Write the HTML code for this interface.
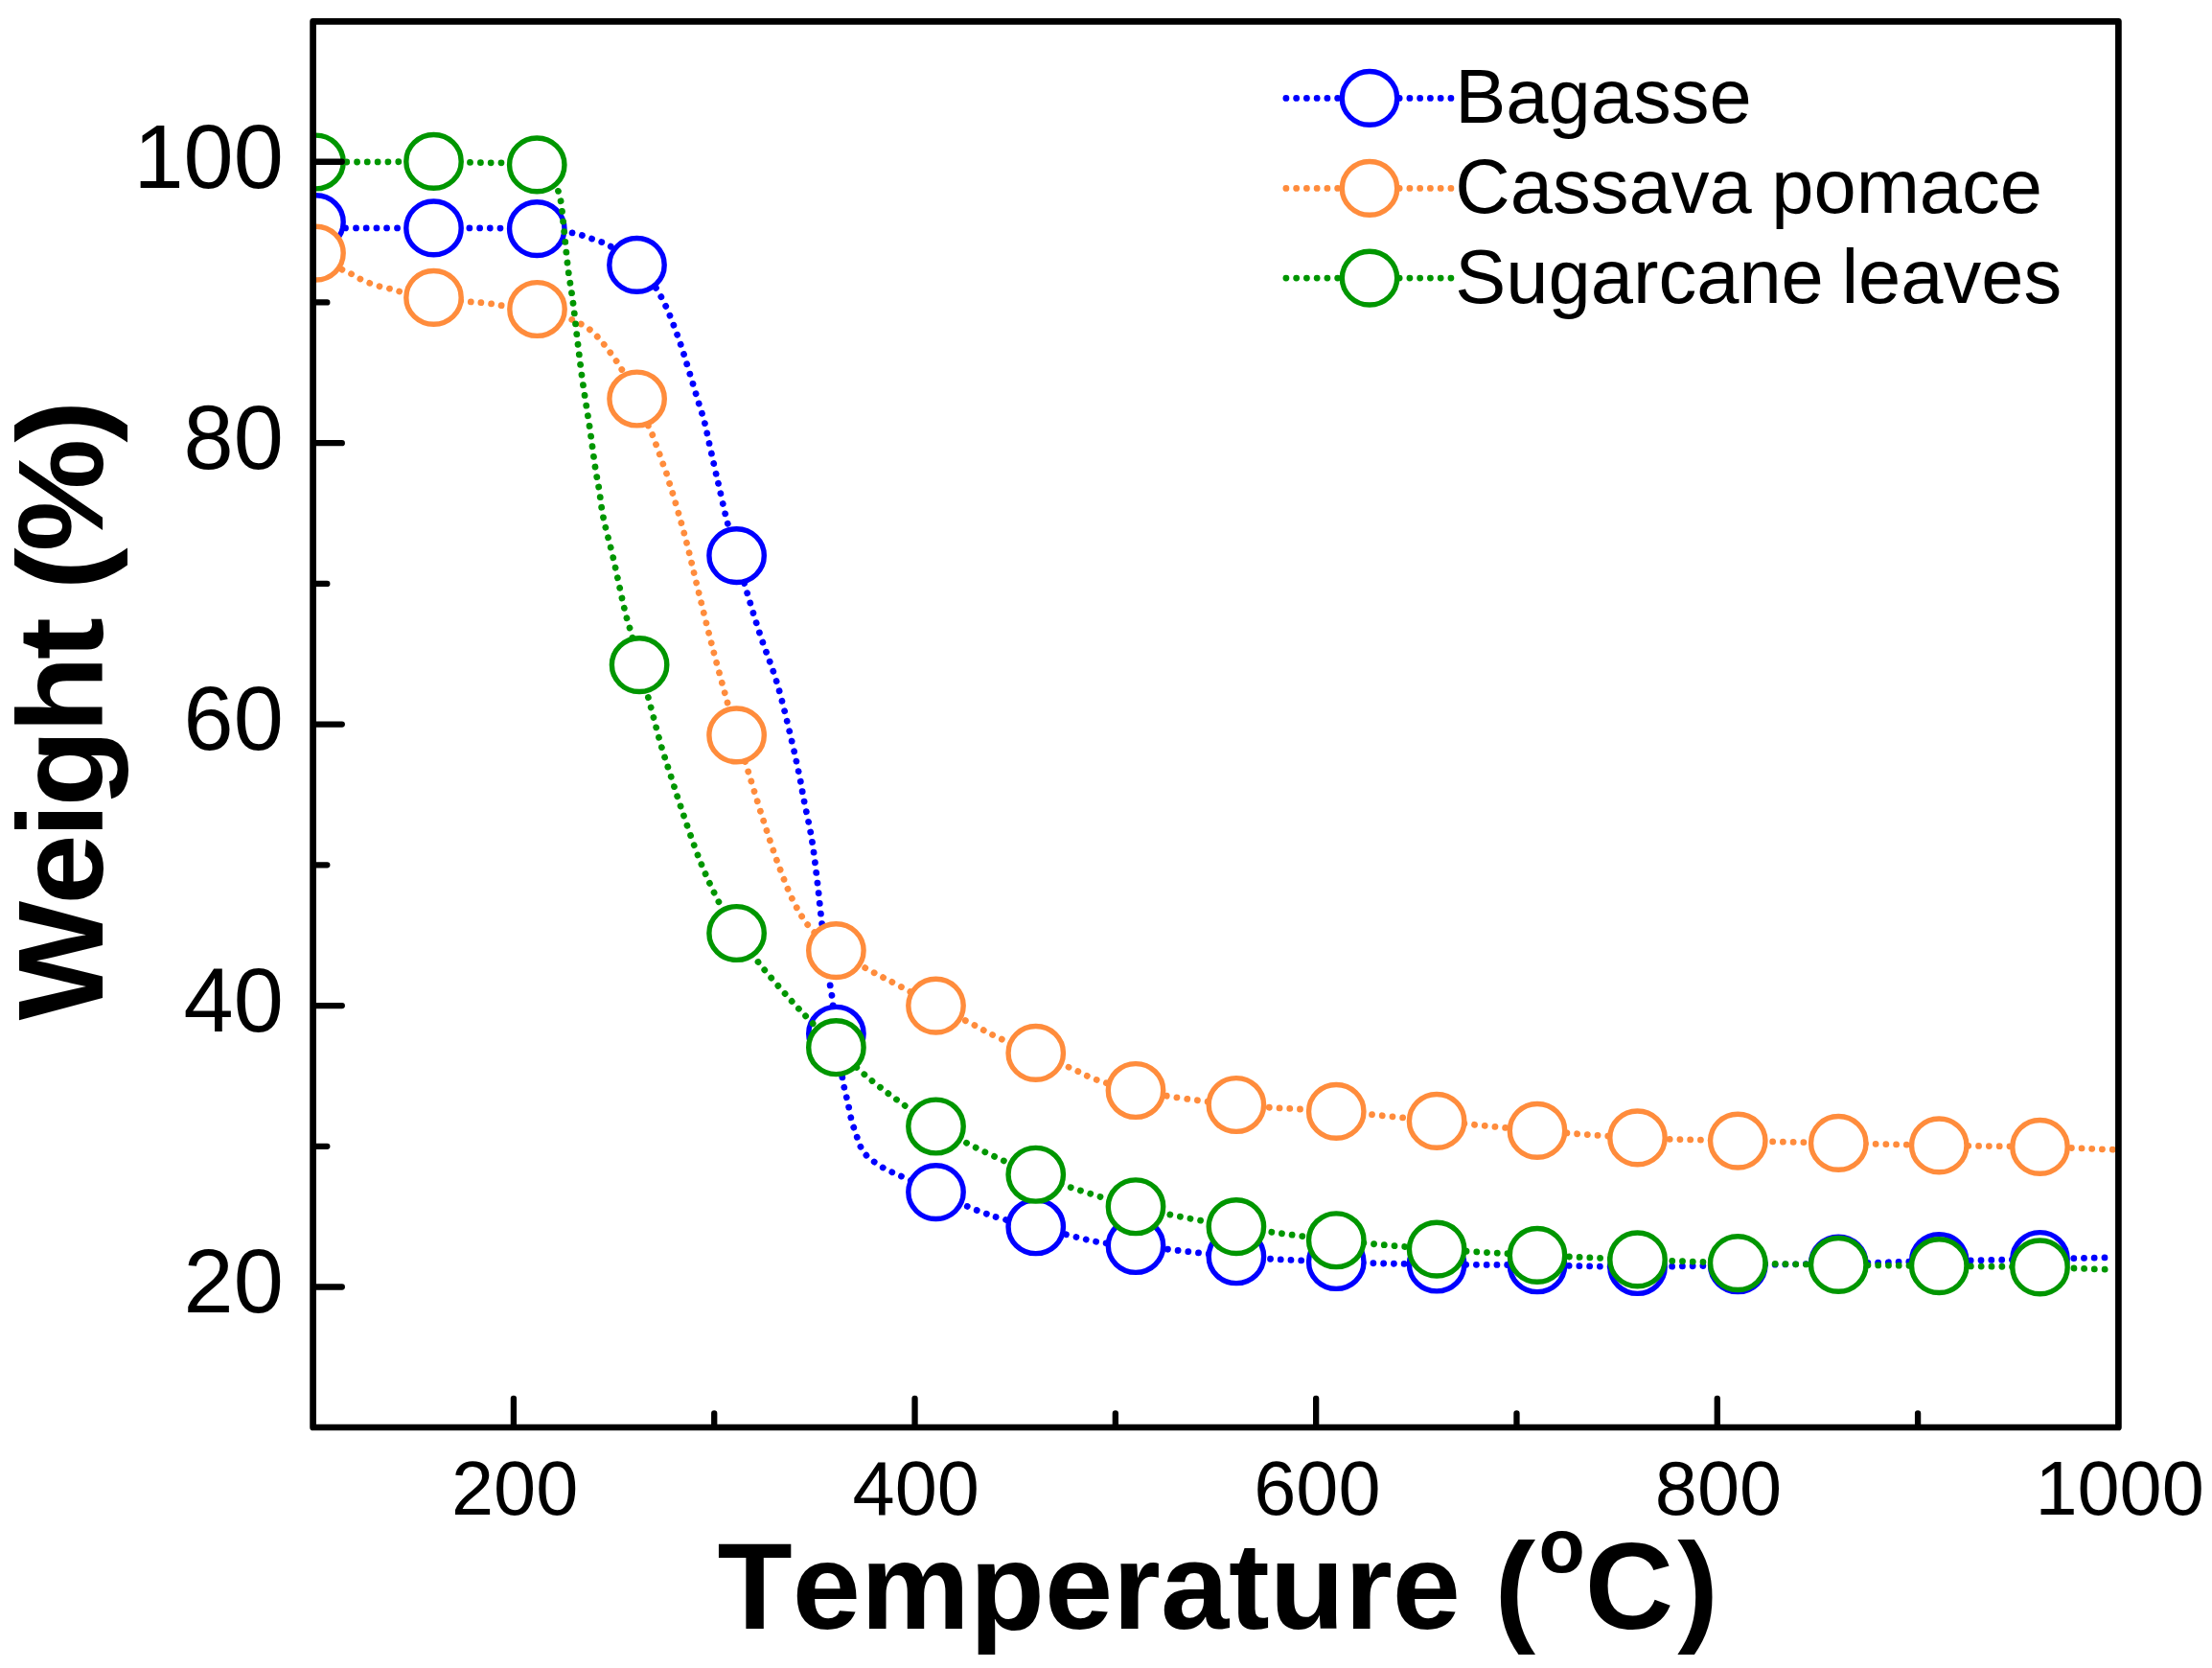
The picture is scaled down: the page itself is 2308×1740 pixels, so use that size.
<!DOCTYPE html>
<html lang="en"><head><meta charset="utf-8"><title>TGA: Weight (%) vs Temperature</title>
<style>html,body{margin:0;padding:0;background:#fff}body{width:2308px;height:1740px;overflow:hidden}svg{display:block}</style></head>
<body>
<svg width="2308" height="1740" viewBox="0 0 2308 1740" font-family="'Liberation Sans', sans-serif" fill="#000" style="font-kerning:none">
<rect width="2308" height="1740" fill="#fff"/>
<defs><clipPath id="plotclip"><rect x="326.60" y="22.30" width="1883.80" height="1466.70"/></clipPath></defs>
<g clip-path="url(#plotclip)">
<path d="M329.50 231.70C333.00 233.13 336.32 235.02 340.00 236.00C343.80 237.01 347.15 237.25 352.00 237.60C359.37 238.13 368.49 237.84 380.00 237.90C398.52 238.00 429.73 237.88 452.50 237.90C472.78 237.92 491.48 237.87 510.00 238.00C527.31 238.12 547.35 238.00 560.25 238.60C568.35 238.98 573.63 239.43 580.00 240.20C586.02 240.92 592.43 241.93 597.50 243.00C601.47 243.83 604.50 244.68 608.00 245.75C611.58 246.84 615.17 248.25 618.75 249.50C622.33 250.75 626.10 251.79 629.50 253.25C632.75 254.64 635.44 256.09 638.75 258.00C642.82 260.35 647.72 263.44 652.00 266.50C656.31 269.58 660.54 272.78 664.50 276.40C668.55 280.10 672.54 284.28 676.00 288.50C679.35 292.58 682.07 296.49 685.00 301.25C688.42 306.80 692.00 313.61 695.00 320.00C697.99 326.36 700.48 333.00 703.00 339.50C705.48 345.91 707.75 352.15 710.00 358.75C712.34 365.63 714.61 373.13 716.75 380.00C718.76 386.44 720.55 392.34 722.50 398.75C724.55 405.49 726.66 412.61 728.75 419.50C730.83 426.36 733.19 433.18 735.00 440.00C736.77 446.67 737.86 452.63 739.50 460.00C741.53 469.10 744.20 481.47 746.25 490.50C747.89 497.73 749.12 502.74 750.80 510.00C752.93 519.19 755.23 530.33 758.00 541.25C761.08 553.41 765.21 567.43 768.60 579.60C771.68 590.66 774.04 599.50 777.50 611.25C781.88 626.15 787.50 645.01 793.00 661.75C798.50 678.51 805.19 694.15 810.50 711.75C816.28 730.90 821.69 754.32 826.00 772.50C829.48 787.19 832.51 801.36 834.75 812.50C836.35 820.45 836.96 825.01 838.50 833.00C840.67 844.28 844.46 860.09 846.75 873.75C849.04 887.42 850.58 901.24 852.25 915.00C853.92 928.74 855.15 942.30 856.75 956.25C858.40 970.62 860.24 987.02 862.00 1000.00C863.41 1010.45 865.12 1021.12 866.25 1028.25C866.94 1032.60 867.36 1034.12 868.00 1038.75C869.24 1047.70 870.59 1064.18 872.40 1078.25C874.48 1094.47 877.95 1119.66 880.00 1130.50C880.94 1135.46 881.67 1137.67 882.50 1141.25C883.33 1144.83 884.08 1147.87 885.00 1152.00C886.25 1157.59 887.67 1166.28 889.25 1171.75C890.41 1175.77 891.86 1178.61 893.00 1182.00C894.10 1185.28 894.79 1188.68 896.00 1191.75C897.15 1194.66 898.33 1197.41 900.00 1200.00C901.72 1202.67 903.80 1205.20 906.25 1207.50C908.90 1209.99 912.38 1212.14 915.50 1214.25C918.55 1216.30 921.59 1218.32 924.75 1220.00C927.84 1221.64 931.04 1222.81 934.25 1224.25C937.54 1225.73 939.97 1226.80 944.25 1228.75C951.95 1232.25 965.41 1238.55 976.50 1243.60C988.28 1248.96 1002.59 1255.71 1013.00 1260.00C1020.60 1263.13 1027.46 1265.56 1033.00 1267.50C1036.89 1268.86 1038.57 1269.50 1043.00 1270.75C1051.52 1273.15 1067.59 1276.52 1080.75 1279.75C1095.22 1283.30 1113.83 1288.33 1126.25 1291.25C1134.80 1293.26 1139.75 1294.71 1148.00 1296.00C1158.66 1297.66 1169.53 1297.94 1185.00 1299.50C1211.06 1302.13 1254.94 1307.91 1289.90 1310.75C1324.69 1313.57 1359.41 1315.13 1394.25 1316.50C1429.15 1317.88 1464.14 1318.46 1499.10 1319.00C1534.06 1319.54 1569.07 1319.33 1604.00 1319.75C1638.87 1320.17 1673.65 1321.50 1708.50 1321.50C1743.40 1321.50 1778.31 1320.33 1813.25 1319.75C1848.23 1319.17 1883.25 1318.71 1918.25 1318.00C1953.25 1317.29 1988.23 1316.25 2023.25 1315.50C2058.31 1314.75 2096.92 1314.19 2128.50 1313.50C2154.35 1312.93 2175.50 1312.33 2199.00 1311.75" fill="none" stroke="#0000ff" stroke-width="6.80" stroke-linecap="round" stroke-dasharray="0.01 10.74" stroke-dashoffset="0.00"/>
<ellipse cx="329.50" cy="231.70" rx="28.70" ry="27.90" fill="#fff" stroke="#0000ff" stroke-width="5.40"/>
<ellipse cx="452.50" cy="237.90" rx="28.70" ry="27.90" fill="#fff" stroke="#0000ff" stroke-width="5.40"/>
<ellipse cx="560.25" cy="238.60" rx="28.70" ry="27.90" fill="#fff" stroke="#0000ff" stroke-width="5.40"/>
<ellipse cx="664.50" cy="276.40" rx="28.70" ry="27.90" fill="#fff" stroke="#0000ff" stroke-width="5.40"/>
<ellipse cx="768.60" cy="579.60" rx="28.70" ry="27.90" fill="#fff" stroke="#0000ff" stroke-width="5.40"/>
<ellipse cx="872.40" cy="1078.25" rx="28.70" ry="27.90" fill="#fff" stroke="#0000ff" stroke-width="5.40"/>
<ellipse cx="976.50" cy="1243.60" rx="28.70" ry="27.90" fill="#fff" stroke="#0000ff" stroke-width="5.40"/>
<ellipse cx="1080.75" cy="1279.75" rx="28.70" ry="27.90" fill="#fff" stroke="#0000ff" stroke-width="5.40"/>
<ellipse cx="1185.00" cy="1299.50" rx="28.70" ry="27.90" fill="#fff" stroke="#0000ff" stroke-width="5.40"/>
<ellipse cx="1289.90" cy="1310.75" rx="28.70" ry="27.90" fill="#fff" stroke="#0000ff" stroke-width="5.40"/>
<ellipse cx="1394.25" cy="1316.50" rx="28.70" ry="27.90" fill="#fff" stroke="#0000ff" stroke-width="5.40"/>
<ellipse cx="1499.10" cy="1319.00" rx="28.70" ry="27.90" fill="#fff" stroke="#0000ff" stroke-width="5.40"/>
<ellipse cx="1604.00" cy="1319.75" rx="28.70" ry="27.90" fill="#fff" stroke="#0000ff" stroke-width="5.40"/>
<ellipse cx="1708.50" cy="1321.50" rx="28.70" ry="27.90" fill="#fff" stroke="#0000ff" stroke-width="5.40"/>
<ellipse cx="1813.25" cy="1319.75" rx="28.70" ry="27.90" fill="#fff" stroke="#0000ff" stroke-width="5.40"/>
<ellipse cx="1918.25" cy="1318.00" rx="28.70" ry="27.90" fill="#fff" stroke="#0000ff" stroke-width="5.40"/>
<ellipse cx="2023.25" cy="1315.50" rx="28.70" ry="27.90" fill="#fff" stroke="#0000ff" stroke-width="5.40"/>
<ellipse cx="2128.50" cy="1313.50" rx="28.70" ry="27.90" fill="#fff" stroke="#0000ff" stroke-width="5.40"/>
<path d="M329.50 264.10C334.00 267.23 338.30 270.58 343.00 273.50C347.79 276.48 353.54 279.47 358.00 281.75C361.50 283.54 364.43 284.65 367.50 286.25C370.51 287.82 373.19 289.73 376.25 291.25C379.43 292.83 382.89 294.24 386.25 295.50C389.56 296.74 392.84 297.80 396.25 298.75C399.75 299.72 403.45 300.33 407.00 301.25C410.53 302.16 412.94 303.20 417.50 304.25C425.72 306.14 440.45 308.64 452.50 310.40C465.24 312.26 483.04 314.16 492.00 315.00C496.61 315.43 498.94 315.43 502.50 315.75C506.19 316.09 510.12 316.48 513.75 317.00C517.19 317.49 519.35 318.14 523.75 318.75C532.13 319.91 548.35 320.06 560.50 322.50C572.93 325.00 589.16 330.42 597.50 333.75C601.99 335.54 604.33 336.92 607.50 338.75C610.57 340.52 613.48 342.28 616.25 344.50C619.16 346.83 621.95 349.77 624.50 352.50C626.93 355.11 629.08 357.78 631.25 360.50C633.41 363.20 635.44 365.94 637.50 368.75C639.60 371.61 641.77 374.55 643.75 377.50C645.69 380.39 647.06 382.41 649.25 386.25C653.20 393.17 659.96 406.05 664.60 416.00C669.10 425.64 673.81 438.36 676.75 445.00C678.31 448.52 679.30 450.16 680.50 453.00C681.82 456.12 683.01 459.64 684.25 463.00C685.51 466.39 686.80 469.92 688.00 473.25C689.13 476.41 690.11 479.36 691.25 482.50C692.44 485.77 693.87 489.15 695.00 492.50C696.12 495.81 696.96 499.17 698.00 502.50C699.04 505.84 699.84 507.88 701.25 512.50C704.39 522.78 711.06 545.69 715.50 562.50C719.98 579.44 723.62 596.00 728.00 613.75C732.75 632.97 737.80 653.78 743.00 673.75C748.21 693.78 754.54 716.71 759.25 733.75C762.76 746.44 765.19 755.55 768.60 766.90C772.24 779.01 776.30 790.88 780.50 804.25C785.35 819.69 790.60 837.62 796.00 854.25C801.43 870.95 807.12 888.74 813.00 904.25C818.25 918.09 823.28 931.72 829.25 943.00C834.28 952.50 838.76 960.22 845.50 968.00C852.88 976.53 862.43 984.40 872.40 991.60C883.11 999.33 896.69 1006.24 908.00 1012.50C918.02 1018.05 926.42 1022.00 936.75 1027.50C948.95 1034.00 963.48 1042.28 976.50 1049.10C988.88 1055.58 1001.58 1061.64 1013.00 1067.50C1023.17 1072.72 1031.31 1077.66 1041.75 1082.50C1053.64 1088.01 1067.62 1092.87 1080.75 1098.40C1094.28 1104.10 1110.53 1111.22 1121.75 1116.25C1129.62 1119.78 1133.67 1122.53 1141.75 1125.50C1153.28 1129.74 1167.30 1133.79 1185.00 1137.50C1212.20 1143.19 1254.91 1148.85 1289.90 1152.50C1324.66 1156.13 1359.45 1156.59 1394.25 1159.40C1429.18 1162.22 1464.15 1166.07 1499.10 1169.40C1534.06 1172.73 1569.05 1176.48 1604.00 1179.40C1638.85 1182.31 1673.63 1185.12 1708.50 1186.90C1743.38 1188.68 1778.31 1189.18 1813.25 1190.10C1848.23 1191.02 1883.25 1191.60 1918.25 1192.40C1953.25 1193.20 1988.23 1194.23 2023.25 1194.90C2058.31 1195.57 2096.21 1195.57 2128.50 1196.40C2156.03 1197.11 2179.50 1198.30 2205.00 1199.25" fill="none" stroke="#ff8c3c" stroke-width="6.80" stroke-linecap="round" stroke-dasharray="0.01 10.74" stroke-dashoffset="0.00"/>
<ellipse cx="329.50" cy="264.10" rx="28.70" ry="27.90" fill="#fff" stroke="#ff8c3c" stroke-width="5.40"/>
<ellipse cx="452.50" cy="310.40" rx="28.70" ry="27.90" fill="#fff" stroke="#ff8c3c" stroke-width="5.40"/>
<ellipse cx="560.50" cy="322.50" rx="28.70" ry="27.90" fill="#fff" stroke="#ff8c3c" stroke-width="5.40"/>
<ellipse cx="664.60" cy="416.00" rx="28.70" ry="27.90" fill="#fff" stroke="#ff8c3c" stroke-width="5.40"/>
<ellipse cx="768.60" cy="766.90" rx="28.70" ry="27.90" fill="#fff" stroke="#ff8c3c" stroke-width="5.40"/>
<ellipse cx="872.40" cy="991.60" rx="28.70" ry="27.90" fill="#fff" stroke="#ff8c3c" stroke-width="5.40"/>
<ellipse cx="976.50" cy="1049.10" rx="28.70" ry="27.90" fill="#fff" stroke="#ff8c3c" stroke-width="5.40"/>
<ellipse cx="1080.75" cy="1098.40" rx="28.70" ry="27.90" fill="#fff" stroke="#ff8c3c" stroke-width="5.40"/>
<ellipse cx="1185.00" cy="1137.50" rx="28.70" ry="27.90" fill="#fff" stroke="#ff8c3c" stroke-width="5.40"/>
<ellipse cx="1289.90" cy="1152.50" rx="28.70" ry="27.90" fill="#fff" stroke="#ff8c3c" stroke-width="5.40"/>
<ellipse cx="1394.25" cy="1159.40" rx="28.70" ry="27.90" fill="#fff" stroke="#ff8c3c" stroke-width="5.40"/>
<ellipse cx="1499.10" cy="1169.40" rx="28.70" ry="27.90" fill="#fff" stroke="#ff8c3c" stroke-width="5.40"/>
<ellipse cx="1604.00" cy="1179.40" rx="28.70" ry="27.90" fill="#fff" stroke="#ff8c3c" stroke-width="5.40"/>
<ellipse cx="1708.50" cy="1186.90" rx="28.70" ry="27.90" fill="#fff" stroke="#ff8c3c" stroke-width="5.40"/>
<ellipse cx="1813.25" cy="1190.10" rx="28.70" ry="27.90" fill="#fff" stroke="#ff8c3c" stroke-width="5.40"/>
<ellipse cx="1918.25" cy="1192.40" rx="28.70" ry="27.90" fill="#fff" stroke="#ff8c3c" stroke-width="5.40"/>
<ellipse cx="2023.25" cy="1194.90" rx="28.70" ry="27.90" fill="#fff" stroke="#ff8c3c" stroke-width="5.40"/>
<ellipse cx="2128.50" cy="1196.40" rx="28.70" ry="27.90" fill="#fff" stroke="#ff8c3c" stroke-width="5.40"/>
<path d="M329.50 169.00C353.00 168.97 378.23 169.02 400.00 168.90C418.79 168.80 435.44 168.27 452.50 168.40C468.73 168.53 483.23 169.07 500.00 169.60C518.89 170.20 548.12 168.91 560.25 171.90C565.88 173.29 568.83 174.89 572.00 177.50C575.01 179.99 577.26 183.44 579.00 187.00C580.82 190.73 581.45 195.59 582.50 199.50C583.42 202.95 584.27 205.35 585.00 209.25C586.06 214.94 586.74 223.57 587.50 230.50C588.23 237.14 588.73 242.68 589.50 250.00C590.49 259.46 591.63 271.90 593.00 282.50C594.32 292.71 596.04 301.62 597.50 312.50C599.23 325.42 600.81 341.05 602.50 355.00C604.14 368.54 605.53 380.78 607.50 395.00C609.76 411.33 613.10 431.05 615.50 447.50C617.63 462.07 619.44 477.27 621.25 488.75C622.55 497.01 623.76 502.37 625.00 510.00C626.43 518.85 627.22 528.38 629.25 538.75C631.69 551.20 635.74 564.49 639.25 579.50C643.56 597.93 649.24 626.67 653.00 641.25C655.09 649.35 656.53 652.83 658.50 660.00C661.12 669.56 664.07 682.13 667.10 693.60C670.30 705.69 673.66 717.49 677.25 730.75C681.39 746.01 686.23 765.49 690.50 780.00C693.93 791.64 697.20 800.98 700.50 811.25C703.70 821.23 706.10 829.28 710.00 840.75C715.53 857.03 723.95 882.11 731.00 899.50C736.80 913.82 742.17 925.56 748.50 938.00C754.72 950.22 761.08 962.03 768.60 973.50C776.29 985.22 785.21 996.29 794.25 1007.50C803.56 1019.05 814.57 1031.52 823.75 1041.75C831.46 1050.34 837.83 1056.95 845.50 1065.00C853.95 1073.87 863.34 1083.69 872.40 1092.70C881.34 1101.58 891.38 1111.47 899.50 1118.70C905.74 1124.25 910.85 1128.26 916.60 1132.80C922.25 1137.26 926.64 1140.63 933.70 1145.70C944.68 1153.59 958.63 1164.65 976.50 1175.00C1003.20 1190.46 1045.51 1211.17 1080.75 1225.25C1115.03 1238.94 1149.93 1249.66 1185.00 1258.75C1219.66 1267.73 1254.89 1273.75 1289.90 1279.60C1324.64 1285.40 1359.38 1289.83 1394.25 1293.75C1429.11 1297.67 1464.13 1300.49 1499.10 1303.10C1534.04 1305.71 1569.06 1307.60 1604.00 1309.40C1638.86 1311.20 1673.64 1312.53 1708.50 1313.90C1743.39 1315.27 1778.31 1316.68 1813.25 1317.60C1848.22 1318.52 1883.25 1318.90 1918.25 1319.40C1953.25 1319.90 1988.23 1320.18 2023.25 1320.60C2058.31 1321.02 2097.17 1321.17 2128.50 1321.90C2153.78 1322.49 2174.17 1323.47 2197.00 1324.25" fill="none" stroke="#009600" stroke-width="6.80" stroke-linecap="round" stroke-dasharray="0.01 10.74" stroke-dashoffset="0.00"/>
<ellipse cx="329.50" cy="169.00" rx="28.70" ry="27.90" fill="#fff" stroke="#009600" stroke-width="5.40"/>
<ellipse cx="452.50" cy="168.40" rx="28.70" ry="27.90" fill="#fff" stroke="#009600" stroke-width="5.40"/>
<ellipse cx="560.25" cy="171.90" rx="28.70" ry="27.90" fill="#fff" stroke="#009600" stroke-width="5.40"/>
<ellipse cx="667.10" cy="693.60" rx="28.70" ry="27.90" fill="#fff" stroke="#009600" stroke-width="5.40"/>
<ellipse cx="768.60" cy="973.50" rx="28.70" ry="27.90" fill="#fff" stroke="#009600" stroke-width="5.40"/>
<ellipse cx="872.40" cy="1092.70" rx="28.70" ry="27.90" fill="#fff" stroke="#009600" stroke-width="5.40"/>
<ellipse cx="976.50" cy="1175.00" rx="28.70" ry="27.90" fill="#fff" stroke="#009600" stroke-width="5.40"/>
<ellipse cx="1080.75" cy="1225.25" rx="28.70" ry="27.90" fill="#fff" stroke="#009600" stroke-width="5.40"/>
<ellipse cx="1185.00" cy="1258.75" rx="28.70" ry="27.90" fill="#fff" stroke="#009600" stroke-width="5.40"/>
<ellipse cx="1289.90" cy="1279.60" rx="28.70" ry="27.90" fill="#fff" stroke="#009600" stroke-width="5.40"/>
<ellipse cx="1394.25" cy="1293.75" rx="28.70" ry="27.90" fill="#fff" stroke="#009600" stroke-width="5.40"/>
<ellipse cx="1499.10" cy="1303.10" rx="28.70" ry="27.90" fill="#fff" stroke="#009600" stroke-width="5.40"/>
<ellipse cx="1604.00" cy="1309.40" rx="28.70" ry="27.90" fill="#fff" stroke="#009600" stroke-width="5.40"/>
<ellipse cx="1708.50" cy="1313.90" rx="28.70" ry="27.90" fill="#fff" stroke="#009600" stroke-width="5.40"/>
<ellipse cx="1813.25" cy="1317.60" rx="28.70" ry="27.90" fill="#fff" stroke="#009600" stroke-width="5.40"/>
<ellipse cx="1918.25" cy="1319.40" rx="28.70" ry="27.90" fill="#fff" stroke="#009600" stroke-width="5.40"/>
<ellipse cx="2023.25" cy="1320.60" rx="28.70" ry="27.90" fill="#fff" stroke="#009600" stroke-width="5.40"/>
<ellipse cx="2128.50" cy="1321.90" rx="28.70" ry="27.90" fill="#fff" stroke="#009600" stroke-width="5.40"/>
</g>
<path d="M327.60 1342.50H356.80M327.60 1195.78H341.30M327.60 1049.06H356.80M327.60 902.34H341.30M327.60 755.62H356.80M327.60 608.90H341.30M327.60 462.18H356.80M327.60 315.46H341.30M327.60 168.74H356.80M535.91 1488.00V1458.80M745.22 1488.00V1474.30M954.53 1488.00V1458.80M1163.84 1488.00V1474.30M1373.16 1488.00V1458.80M1582.47 1488.00V1474.30M1791.78 1488.00V1458.80M2001.09 1488.00V1474.30" stroke="#000" stroke-width="6.30" stroke-linecap="round" fill="none"/>
<rect x="326.60" y="22.30" width="1883.80" height="1466.70" fill="none" stroke="#000" stroke-width="6.70" stroke-linejoin="round"/>
<text transform="translate(295.75 1369.30) scale(1.0000 1)" font-size="93.70" text-anchor="end">20</text>
<text transform="translate(295.75 1075.86) scale(1.0000 1)" font-size="93.70" text-anchor="end">40</text>
<text transform="translate(295.75 782.42) scale(1.0000 1)" font-size="93.70" text-anchor="end">60</text>
<text transform="translate(295.75 488.98) scale(1.0000 1)" font-size="93.70" text-anchor="end">80</text>
<text transform="translate(295.75 195.54) scale(1.0000 1)" font-size="93.70" text-anchor="end">100</text>
<text transform="translate(537.11 1580.00) scale(1.0000 1)" font-size="79.30" text-anchor="middle">200</text>
<text transform="translate(955.73 1580.00) scale(1.0000 1)" font-size="79.30" text-anchor="middle">400</text>
<text transform="translate(1374.36 1580.00) scale(1.0000 1)" font-size="79.30" text-anchor="middle">600</text>
<text transform="translate(1792.98 1580.00) scale(1.0000 1)" font-size="79.30" text-anchor="middle">800</text>
<text transform="translate(2211.60 1580.00) scale(1.0000 1)" font-size="79.30" text-anchor="middle">1000</text>
<text transform="translate(107 1064.4) rotate(-90) scale(1.04 1)" font-size="127" font-weight="bold" letter-spacing="-3.8" text-anchor="start">Weight (%)</text>
<text transform="translate(748.5 1698.8)" font-size="128" font-weight="bold" text-anchor="start">Temperature (<tspan font-size="79" dx="3.5" dy="-59.2">o</tspan><tspan dy="59.2">C</tspan><tspan dx="4">)</tspan></text>
<path d="M1341.9 102.40H1514.6" fill="none" stroke="#0000ff" stroke-width="6.80" stroke-linecap="round" stroke-dasharray="0.01 10.74"/>
<ellipse cx="1429" cy="102.40" rx="28.70" ry="27.90" fill="#fff" stroke="#0000ff" stroke-width="5.40"/>
<text transform="translate(1518.30 127.80) scale(1.0000 1)" font-size="79.50" text-anchor="start">Bagasse</text>
<path d="M1341.9 196.40H1514.6" fill="none" stroke="#ff8c3c" stroke-width="6.80" stroke-linecap="round" stroke-dasharray="0.01 10.74"/>
<ellipse cx="1429" cy="196.40" rx="28.70" ry="27.90" fill="#fff" stroke="#ff8c3c" stroke-width="5.40"/>
<text transform="translate(1518.30 221.70) scale(1.0000 1)" font-size="79.50" text-anchor="start">Cassava<tspan dx="-1.5"> pomace</tspan></text>
<path d="M1341.9 290.10H1514.6" fill="none" stroke="#009600" stroke-width="6.80" stroke-linecap="round" stroke-dasharray="0.01 10.74"/>
<ellipse cx="1429" cy="290.10" rx="28.70" ry="27.90" fill="#fff" stroke="#009600" stroke-width="5.40"/>
<text transform="translate(1518.30 315.60) scale(1.0000 1)" font-size="79.50" text-anchor="start">Sugarcane<tspan dx="-3.5"> leaves</tspan></text>
</svg>
</body></html>
